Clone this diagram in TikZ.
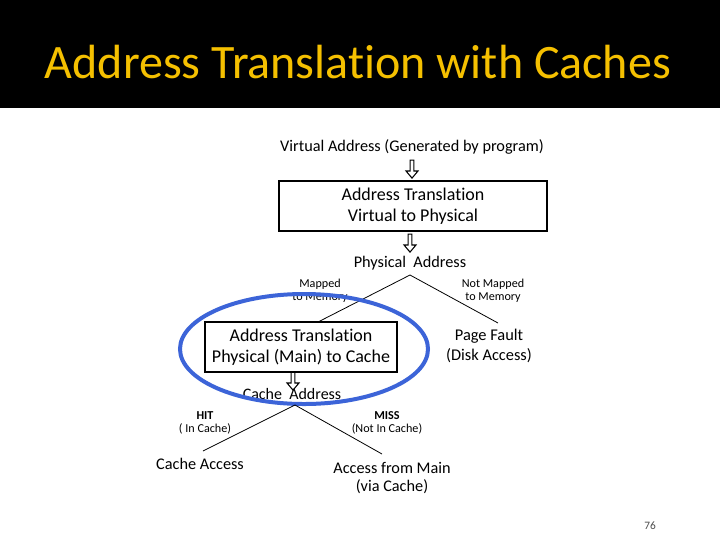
\documentclass[tikz,border=0pt]{standalone}
\usepackage{fontspec}
\setmainfont{Carlito}[Ligatures={NoCommon}]
\usetikzlibrary{shapes.arrows}
\definecolor{titleyellow}{HTML}{F5C000}
\definecolor{ovalblue}{HTML}{3C64D8}
\tikzset{
  boxnode/.style={draw, line width=1.1pt, inner sep=0pt, align=center, font=\fontsize{13.5}{15.8}\selectfont},
  txt/.style={inner sep=0pt, align=center},
  lbl/.style={inner sep=0pt, align=center, font=\fontsize{12.2}{14.2}\selectfont},
  small/.style={inner sep=0pt, align=center, font=\fontsize{9.1}{9.9}\selectfont},
  hollow/.style={single arrow, draw, line width=0.8pt, shape border rotate=270, minimum height=13.5pt, minimum width=9pt, single arrow head extend=2.2pt, single arrow tip angle=80, inner sep=0.6pt},
  branch/.style={line width=0.6pt}
}
\begin{document}
\begin{tikzpicture}[x=0.75pt,y=-0.75pt]
\useasboundingbox (0,0) rectangle (720,540);
\fill[white] (0,0) rectangle (720,540);
\fill[black] (0,0) rectangle (720,108);
\node[txt, text=titleyellow, font=\fontsize{36}{40}\selectfont] (title) at (358,62) {Address Translation with Caches};

\node[lbl] (va) at (412,147) {Virtual Address (Generated by program)};
\node[hollow] (a1) at (412,168) {};
\node[boxnode, minimum width=201pt, minimum height=37.5pt] (b1) at (413,206) {Address Translation\\Virtual to Physical};
\node[hollow] (a2) at (410,242) {};
\node[lbl] (pa) at (410,263) {Physical\ \ Address};
\coordinate (pap) at (410,275);
\coordinate (b2t) at (318,322);
\coordinate (pft) at (498,323);
\draw[branch] (pap) -- (b2t);
\draw[branch] (pap) -- (pft);
\node[small] (mapped) at (320,291) {Mapped\\to Memory};
\node[small] (notmapped) at (493,291) {Not Mapped\\to Memory};

\node[boxnode, minimum width=144pt, minimum height=37.5pt] (b2) at (301,347) {Address Translation\\Physical (Main) to Cache};
\node[lbl, font=\fontsize{12.3}{14.5}\selectfont] (pf) at (489,346) {Page Fault\\(Disk Access)};
\node[hollow] (a3) at (293,380) {};
\node[lbl, font=\fontsize{12}{14}\selectfont] (ca) at (292,394) {Cache\ \ Address};
\draw[ovalblue, line width=3pt] (304,349) ellipse [x radius=124, y radius=55];

\coordinate (cap) at (295,405);
\coordinate (hitend) at (203,451);
\coordinate (missend) at (382,454);
\draw[branch] (cap) -- (hitend);
\draw[branch] (cap) -- (missend);
\node[small] (hit) at (205,423) {\textbf{HIT}\\( In Cache)};
\node[small] (miss) at (387,423) {\textbf{MISS}\\(Not In Cache)};
\node[lbl] (cacc) at (200,464) {Cache Access};
\node[lbl] (amain) at (392,478) {Access from Main\\(via Cache)};
\node[txt, text=black!70, font=\fontsize{8.5}{10}\selectfont] (pg) at (650,526) {76};
\end{tikzpicture}
\end{document}
